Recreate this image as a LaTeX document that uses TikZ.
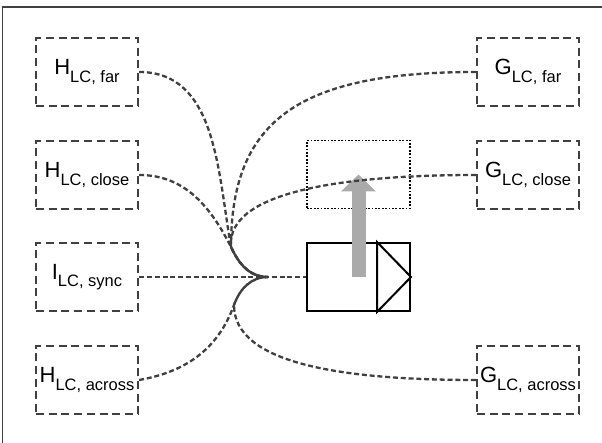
\documentclass[tikz,border=0pt]{standalone}
\usepackage{fontspec}
\setmainfont{Liberation Sans}
\usepackage{tikz}
\usetikzlibrary{arrows.meta}
\definecolor{linegray}{RGB}{64, 64, 64}
\definecolor{arrowgray}{RGB}{170, 170, 170}
\newcommand{\lclabel}[2]{#1\raisebox{-7.5pt}{\fontsize{16.5}{16.5}\selectfont LC, #2}}

\begin{document}
\begin{tikzpicture}[x=1pt, y=1pt,
    lcbox/.style={draw=linegray, line width=2.2pt, dash pattern=on 8pt off 4.7pt, minimum width=102pt, minimum height=68pt, inner sep=0pt, font=\fontsize{22}{22}\selectfont},
    link/.style={draw=linegray, line width=2.3pt, dash pattern=on 5pt off 2.8pt},
    unit/.style={draw=black, line width=2pt, minimum width=103pt, minimum height=68pt}]
    \useasboundingbox (0,0) rectangle (602,443);
    \draw[linegray, line width=1.8pt] (2.5,0) |- (602,436);

    \node[lcbox] (Hfar) at (87,371) {\lclabel{H}{far}};
    \node[lcbox] (Hclose) at (87,268) {\lclabel{H}{close}};
    \node[lcbox] (Isync) at (87,166) {\lclabel{I}{sync}};
    \node[lcbox] (Hacross) at (87,63) {\lclabel{H}{across}};
    \node[lcbox] (Gfar) at (528,371) {\lclabel{G}{far}};
    \node[lcbox] (Gclose) at (528,268) {\lclabel{G}{close}};
    \node[lcbox] (Gacross) at (528,63) {\lclabel{G}{across}};

    % target slot and the unit below it
    \node[draw=black, line width=1.8pt, dash pattern=on 1.8pt off 1.6pt, minimum width=103pt, minimum height=68pt] (slot) at (358.5,268.5) {};
    \node[unit] (ff) at (358.5,166) {};
    \draw[line width=2pt] ([xshift=-34pt]ff.north east) -- (ff.east) -- ([xshift=-34pt]ff.south east) -- cycle;
    \draw[arrowgray, line width=14pt, -{Triangle[width=34pt,length=17pt]}] (ff.center) -- (slot.center);

    \coordinate (mu) at (231,196);
    \coordinate (ml) at (234,138);
    \coordinate (j) at (268,166);

    \draw[link] (Hfar.east) to[out=0, in=100] (mu) to[out=-65, in=180] (j);
    \draw[link] (Hclose.east) to[out=0, in=117] (mu) to[out=-65, in=180] (j);
    \draw[link] (Gfar.west) to[out=180, in=90, out distance=177pt, in distance=127pt] (mu) to[out=-65, in=180] (j);
    \draw[link] (Gclose.west) to[out=180, in=95, out distance=127pt, in distance=57pt] (mu) to[out=-65, in=180] (j);
    \draw[link] (Hacross.east) to[out=10, in=-110] (ml) to[out=70, in=180] (j);
    \draw[link] (Gacross.west) to[out=180, in=-90, out distance=137pt, in distance=58pt] (ml) to[out=70, in=180] (j);
    \draw[link] (Isync.east) -- (j) -- (ff.west);
\end{tikzpicture}
\end{document}
